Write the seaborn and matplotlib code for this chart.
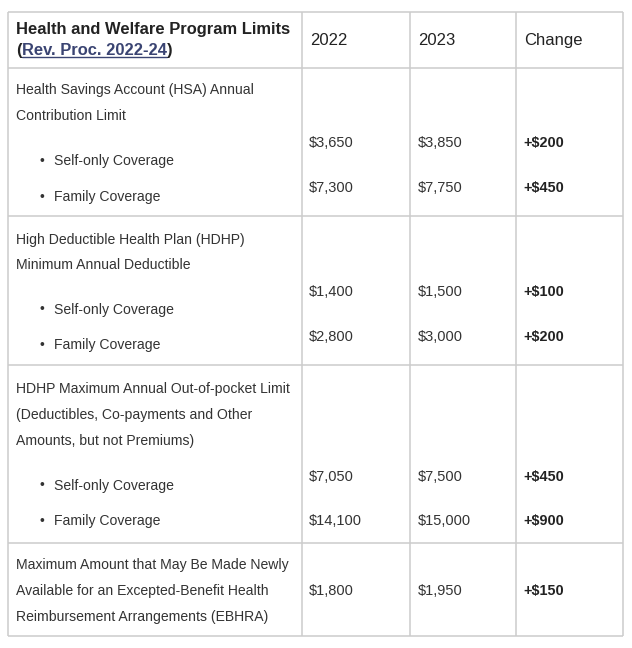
import matplotlib
matplotlib.use("Agg")
import matplotlib.pyplot as plt
import seaborn as sns

sns.set_style("white")
plt.rcParams["font.family"] = ["Liberation Sans", "DejaVu Sans"]

# ---- data ----
header_title = "Health and Welfare Program Limits"
header_link = "Rev. Proc. 2022-24"
years = ["2022", "2023"]
change_label = "Change"

categories = [
    ["Health Savings Account (HSA) Annual", "Contribution Limit"],
    ["High Deductible Health Plan (HDHP)", "Minimum Annual Deductible"],
    ["HDHP Maximum Annual Out-of-pocket Limit",
     "(Deductibles, Co-payments and Other",
     "Amounts, but not Premiums)"],
    ["Maximum Amount that May Be Made Newly",
     "Available for an Excepted-Benefit Health",
     "Reimbursement Arrangements (EBHRA)"],
]
sub_items = [
    ["Self-only Coverage", "Family Coverage"],
    ["Self-only Coverage", "Family Coverage"],
    ["Self-only Coverage", "Family Coverage"],
    [],
]
values_2022 = [[3650, 7300], [1400, 2800], [7050, 14100], [1800]]
values_2023 = [[3850, 7750], [1500, 3000], [7500, 15000], [1950]]

# ---- layout (pixels) ----
W, H = 632, 648
fig = plt.figure(figsize=(W / 100, H / 100), dpi=100)
ax = fig.add_axes([0, 0, 1, 1])
ax.set_xlim(0, W)
ax.set_ylim(H, 0)
ax.axis("off")

col_x = [8, 301.5, 409.5, 515.5, 622.5]
row_y = [11.5, 68, 216, 365, 543, 636]
line_c = "#cccccc"
txt_c = "#333333"
bold_c = "#222222"
link_c = "#3a4472"
fs = 10.1
fs_val = 10.5
fs_bold = 10.4
fs_head = 11.9
cap = 5.0  # half cap-height offset for baseline placement

for x in col_x:
    ax.plot([x, x], [row_y[0], row_y[-1]], color=line_c, lw=1.1, solid_capstyle="butt")
for y in row_y:
    ax.plot([col_x[0], col_x[-1]], [y, y], color=line_c, lw=1.1, solid_capstyle="butt")

# header
ax.text(16, 28 + 5.8, header_title, fontsize=fs_head, fontweight="bold", color=bold_c, va="baseline")
t1 = ax.text(16, 49 + 5.8, "(", fontsize=fs_head, fontweight="bold", color=bold_c, va="baseline")
fig.canvas.draw()
r = fig.canvas.get_renderer()
inv = ax.transData.inverted()
bb = t1.get_window_extent(r)
x1 = inv.transform((bb.x1, 0))[0]
t2 = ax.text(x1, 49 + 5.8, header_link, fontsize=fs_head, fontweight="bold", color=link_c, va="baseline")
bb2 = t2.get_window_extent(r)
x2 = inv.transform((bb2.x1, 0))[0]
ax.plot([x1, x2], [56.8, 56.8], color=link_c, lw=1.0)
ax.text(x2, 49 + 5.8, ")", fontsize=fs_head, fontweight="bold", color=bold_c, va="baseline")

for i, lab in enumerate(years + [change_label]):
    ax.text(col_x[i + 1] + 8.5, 39 + 6.0, lab, fontsize=12.0, color=bold_c, va="baseline")

# body rows
desc_y = [[89, 115], [239, 264], [388, 414, 440], [564, 590, 616]]
sub_y = [[160, 196], [309, 344], [485, 520], []]
val_y = [[142, 187], [291, 336], [476, 520], [590]]

def money(v):
    return f"${v:,}"

for i in range(len(categories)):
    for line, y in zip(categories[i], desc_y[i]):
        ax.text(16, y + cap, line, fontsize=fs, color=txt_c, va="baseline")
    for item, y in zip(sub_items[i], sub_y[i]):
        ax.text(41.7, y + 0.5, "\u2022", fontsize=10, color=txt_c, va="center", ha="center")
        ax.text(54, y + cap, item, fontsize=fs, color=txt_c, va="baseline")
    for a, b, y in zip(values_2022[i], values_2023[i], val_y[i]):
        ax.text(309, y + cap, money(a), fontsize=fs_val, color=txt_c, va="baseline")
        ax.text(417.5, y + cap, money(b), fontsize=fs_val, color=txt_c, va="baseline")
        ax.text(523, y + cap, "+" + money(b - a), fontsize=fs_bold, color=bold_c,
                fontweight="bold", va="baseline")

fig.savefig("out.png", dpi=100, facecolor="white")
